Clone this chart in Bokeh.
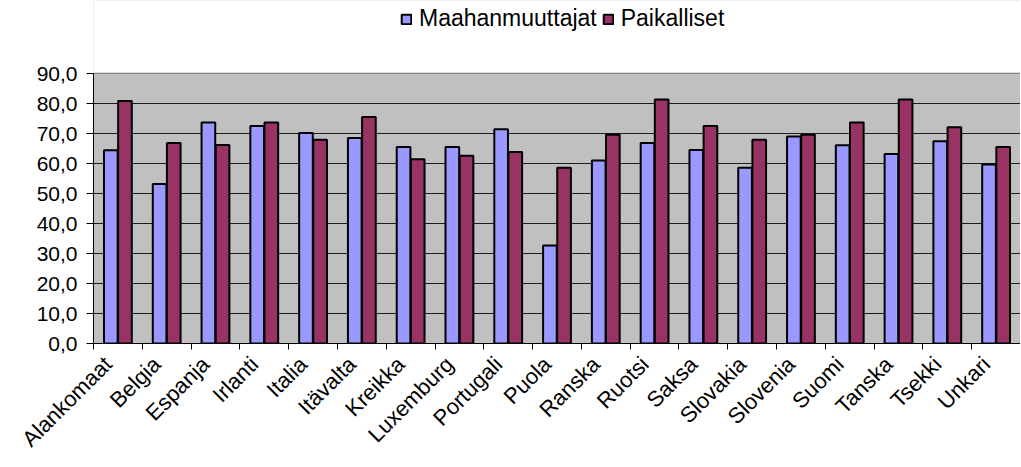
import math
from bokeh.plotting import figure
from bokeh.models import ColumnDataSource, FixedTicker, Legend, LegendItem, Range1d
from bokeh.embed import file_html
from bokeh.resources import INLINE

categories = ["Alankomaat", "Belgia", "Espanja", "Irlanti", "Italia", "Itävalta", "Kreikka",
              "Luxemburg", "Portugali", "Puola", "Ranska", "Ruotsi", "Saksa", "Slovakia",
              "Slovenia", "Suomi", "Tanska", "Tsekki", "Unkari"]
maahanmuuttajat = [64.4, 53.2, 73.7, 72.5, 70.2, 68.5, 65.5, 65.5, 71.4, 32.7,
                   61.0, 66.8, 64.5, 58.6, 69.0, 66.1, 63.2, 67.4, 59.7]
paikalliset = [80.8, 66.8, 66.2, 73.7, 67.9, 75.5, 61.4, 62.6, 63.8, 58.6,
               69.6, 81.3, 72.5, 67.9, 69.6, 73.7, 81.3, 72.1, 65.5]
series_names = ["Maahanmuuttajat", "Paikalliset"]
y_ticks = [0, 10, 20, 30, 40, 50, 60, 70, 80, 90]

BLUE = "#9999FF"
WINE = "#993366"
FONT = "Liberation Sans"

n = len(categories)
y_max = y_ticks[-1]
# the frame also holds the legend strip above the plot area
PLOT_H, TOP_H = 270, 73
y_top = y_max * (PLOT_H + TOP_H) / PLOT_H

centers = [i + 0.5 for i in range(n)]
label_pos = [c - 0.2 for c in centers]
src = ColumnDataSource(dict(
    xb=[c - 0.145 for c in centers],
    xr=[c + 0.145 for c in centers],
    m=maahanmuuttajat,
    p=paikalliset,
))

p = figure(frame_width=927, frame_height=PLOT_H + TOP_H, output_backend="svg",
           toolbar_location=None,
           x_range=Range1d(0, n), y_range=Range1d(0, y_top),
           min_border_left=93, min_border_right=0, min_border_top=0, min_border_bottom=122)
p.background_fill_color = "#C0C0C0"
p.border_fill_color = "white"
p.outline_line_color = None

rb = p.vbar(x="xb", top="m", width=0.28, source=src, fill_color=BLUE,
            line_color="black", line_width=2)
rr = p.vbar(x="xr", top="p", width=0.28, source=src, fill_color=WINE,
            line_color="black", line_width=2)

# white strip above the value range (legend area); reaches past the frame edges
p.quad(left=[-1], right=[n + 1], bottom=[y_max], top=[y_top + 5],
       fill_color="white", line_color="white", line_width=2)
# grey top edge of the plot area
p.segment(x0=[0], x1=[n], y0=[y_max], y1=[y_max], line_color="#808080", line_width=1.5)

# x axis
p.xaxis.ticker = FixedTicker(ticks=label_pos, minor_ticks=list(range(n + 1)))
p.xaxis.major_label_overrides = {c: name for c, name in zip(label_pos, categories)}
p.xaxis.major_tick_out = 0
p.xaxis.major_tick_in = 0
p.xaxis.minor_tick_out = 6
p.xaxis.minor_tick_in = 0
p.xaxis.minor_tick_line_color = "black"
p.xaxis.axis_line_color = "black"
p.xaxis.major_label_orientation = math.pi / 4
p.xaxis.major_label_text_font = FONT
p.xaxis.major_label_text_font_size = "22px"
p.xaxis.major_label_text_color = "black"
p.xaxis.major_label_standoff = 11
p.xgrid.grid_line_color = None

# y axis
p.yaxis.ticker = FixedTicker(ticks=y_ticks)
p.yaxis.bounds = (0, y_max)
p.yaxis.major_label_overrides = {t: f"{t},0" for t in y_ticks}
p.yaxis.major_tick_out = 7
p.yaxis.major_tick_in = 0
p.yaxis.minor_tick_line_color = None
p.yaxis.axis_line_color = "black"
p.yaxis.major_tick_line_color = "black"
p.yaxis.major_label_text_font = FONT
p.yaxis.major_label_text_font_size = "21px"
p.yaxis.major_label_text_color = "black"
p.yaxis.major_label_standoff = 9
p.ygrid.ticker = FixedTicker(ticks=y_ticks[:-1])
p.ygrid.grid_line_color = "black"
p.ygrid.grid_line_alpha = 0.85

legend = Legend(items=[LegendItem(label=series_names[0], renderers=[rb]),
                       LegendItem(label=series_names[1], renderers=[rr])],
                location=(307, 311), orientation="horizontal",
                label_text_font=FONT, label_text_font_size="23px",
                label_text_color="black",
                glyph_width=12, glyph_height=12, label_standoff=7, spacing=5,
                padding=0, margin=0, border_line_color=None,
                background_fill_alpha=0)
p.add_layout(legend, "center")

open("out.html", "w").write(file_html(p, INLINE))
